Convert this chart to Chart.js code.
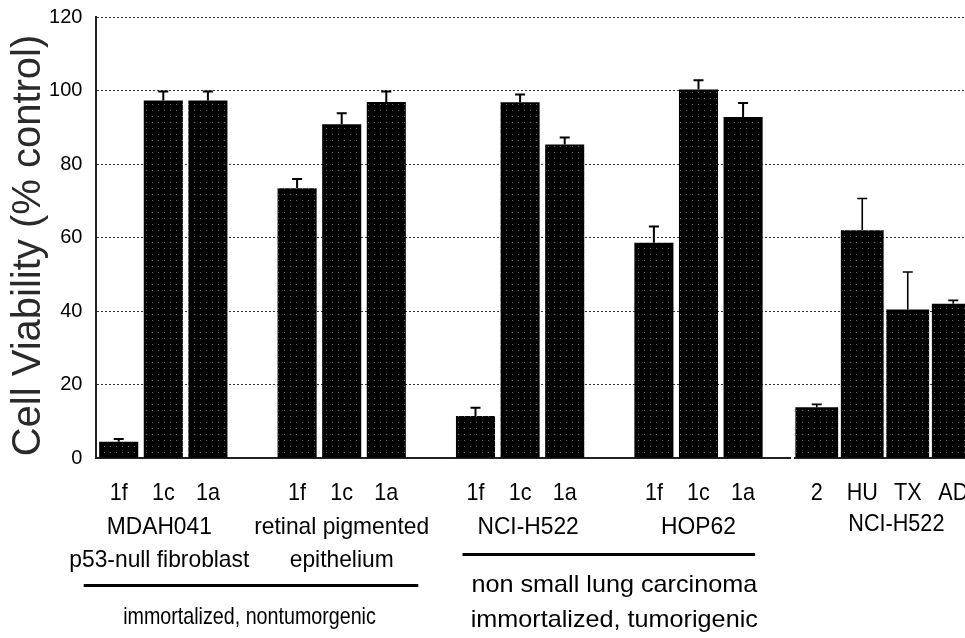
<!DOCTYPE html>
<html><head><meta charset="utf-8">
<script src="https://cdn.jsdelivr.net/npm/chart.js@4.4.1/dist/chart.umd.min.js"></script>
<style>
html,body{margin:0;padding:0;background:#fff;overflow:hidden;width:965px;height:638px;}
#left{position:absolute;left:0;top:0;width:791px;height:638px;overflow:hidden;}
#right{position:absolute;left:794px;top:0;width:171px;height:638px;overflow:hidden;}
canvas{display:block;}
</style></head><body>
<div id="left"><canvas id="c1" width="810" height="638"></canvas></div>
<div id="right"><canvas id="c2" width="182" height="638"></canvas></div>
<script>
// ---- data ----
const leftCategories = ['1f','1c','1a','', '1f','1c','1a','', '1f','1c','1a','', '1f','1c','1a',''];
const leftValues = [4.4, 97.3, 97.3, null, 73.4, 90.8, 96.9, null, 11.4, 96.8, 85.3, null, 58.6, 100.3, 92.8, null];
const leftErrors = [0.8, 2.4, 2.4, null, 2.5, 3.0, 2.8, null, 2.3, 2.1, 1.9, null, 4.4, 2.5, 3.8, null];
const cellLineNames = [['MDAH041','p53-null fibroblast'], ['retinal pigmented','epithelium'], ['NCI-H522'], ['HOP62']];
const classNames = [['immortalized, nontumorgenic'], ['non small lung carcinoma','immortalized, tumorigenic']];
const rightCategories = ['2','HU','TX','AD'];
const rightValues = [13.8, 62.0, 40.4, 42.0];
const rightErrors = [0.8, 8.6, 10.2, 0.9];
const rightLineName = 'NCI-H522';
const yTicks = {min: 0, max: 120, step: 20};
const yTitle = 'Cell Viability (% control)';

// ---- styles ----
const SANS = "'Liberation Sans',Arial,sans-serif";
const pc = document.createElement('canvas'); pc.width = 6; pc.height = 6;
const pctx = pc.getContext('2d');
pctx.fillStyle = '#000'; pctx.fillRect(0,0,6,6);
pctx.fillStyle = '#6a6a6a'; pctx.fillRect(2,2,1,1);
const barPattern = pctx.createPattern(pc, 'repeat');

function condText(ctx, t, x, y, size, sx) {
  ctx.save();
  ctx.font = size + "px " + SANS;
  ctx.textAlign = 'center'; ctx.textBaseline = 'middle';
  ctx.translate(x, y); ctx.scale(sx, 1);
  ctx.fillText(t, 0, 0);
  ctx.restore();
}

const errorBars = {
  id: 'errorBars',
  afterDatasetsDraw(chart, args, opts) {
    const ctx = chart.ctx, ys = chart.scales.y;
    const meta = chart.getDatasetMeta(0);
    const errs = opts.errors;
    ctx.save();
    ctx.strokeStyle = '#000'; ctx.lineWidth = opts.lw || 2;
    meta.data.forEach((el, i) => {
      const v = chart.data.datasets[0].data[i];
      if (v == null || errs[i] == null) return;
      const yTop = ys.getPixelForValue(v + errs[i]);
      ctx.beginPath();
      ctx.moveTo(el.x, el.y); ctx.lineTo(el.x, yTop);
      ctx.moveTo(el.x - 5, yTop); ctx.lineTo(el.x + 5, yTop);
      ctx.stroke();
    });
    ctx.restore();
  }
};

const catLabels = {
  id: 'catLabels',
  afterDraw(chart) {
    const ctx = chart.ctx, xs = chart.scales.x;
    ctx.save(); ctx.fillStyle = '#000';
    chart.data.labels.forEach((t, i) => { if (t) condText(ctx, t, xs.getPixelForValue(i), 493, 24, 0.9); });
    ctx.restore();
  }
};

const leftLabels = {
  id: 'leftLabels',
  afterDraw(chart) {
    const ctx = chart.ctx, xs = chart.scales.x, ys = chart.scales.y;
    const px = i => xs.getPixelForValue(i);
    ctx.save();
    ctx.fillStyle = '#000';
    const groupStarts = [0, 4, 8, 12];
    const lineY = [527, 560];
    cellLineNames.forEach((lines, g) => {
      const cx = (px(groupStarts[g]) + px(groupStarts[g] + 2)) / 2 + (g === 2 ? 8 : 0) + (g === 0 ? -4 : 0);
      lines.forEach((t, k) => condText(ctx, t, cx, lineY[k], 24, 0.95));
    });
    let x0 = px(0) - 35, x1 = px(6) + 32;
    ctx.fillRect(x0, 584, x1 - x0, 3);
    condText(ctx, classNames[0][0], (px(0) + px(6)) / 2 - 3, 617, 24, 0.82);
    x0 = px(8) - 13; x1 = px(14) + 12;
    ctx.fillRect(x0, 553, x1 - x0, 3);
    const cr = (px(8) + px(14)) / 2 + 5;
    condText(ctx, classNames[1][0], cr, 585, 24, 1.05);
    condText(ctx, classNames[1][1], cr, 620, 24, 1.05);
    // y title
    ctx.save();
    ctx.fillStyle = '#2a2a2a';
    ctx.font = "40px " + SANS;
    ctx.textAlign = 'center'; ctx.textBaseline = 'middle';
    ctx.translate(29, (ys.top + ys.bottom) / 2 + 8);
    ctx.rotate(-Math.PI / 2);
    ctx.fillText(yTitle, 0, 0);
    ctx.restore();
    ctx.restore();
  }
};

const rightLabels = {
  id: 'rightLabels',
  afterDraw(chart) {
    const ctx = chart.ctx, xs = chart.scales.x;
    ctx.save(); ctx.fillStyle = '#000';
    condText(ctx, rightLineName, xs.getPixelForValue(1.75), 524, 24, 0.9);
    ctx.restore();
  }
};

function baseOptions(isLeft, errors) {
  return {
    responsive: false, animation: false,
    layout: {padding: {top: 17, bottom: 0, left: 0, right: 0}},
    plugins: {legend: {display: false}, tooltip: {enabled: false}, errorBars: {errors: errors, lw: isLeft ? 2 : 1.6}},
    scales: {
      x: {
        grid: {display: false},
        border: {display: true, color: '#222', width: 2, dash: [2, 2]},
        ticks: {display: false},
        afterFit: a => { a.height = 180; a.paddingLeft = 0; a.paddingRight = 0; }
      },
      y: {
        min: yTicks.min, max: yTicks.max,
        grid: {color: '#333', lineWidth: 1, drawTicks: false},
        border: {display: isLeft, color: '#222', width: 2, dash: [2, 2]},
        ticks: isLeft ? {stepSize: yTicks.step, color: '#000', font: {family: SANS, size: 20}, padding: 14} : {stepSize: yTicks.step, display: false},
        afterFit: a => { a.width = isLeft ? 96.4 : 0; a.paddingTop = 0; a.paddingBottom = 0; }
      }
    }
  };
}

new Chart(document.getElementById('c1'), {
  type: 'bar',
  data: {labels: leftCategories, datasets: [{data: leftValues, backgroundColor: barPattern, borderWidth: 0, barPercentage: 0.876, categoryPercentage: 1}]},
  options: baseOptions(true, leftErrors),
  plugins: [errorBars, catLabels, leftLabels]
});

new Chart(document.getElementById('c2'), {
  type: 'bar',
  data: {labels: rightCategories, datasets: [{data: rightValues, backgroundColor: barPattern, borderWidth: 0, barPercentage: 0.94, categoryPercentage: 1}]},
  options: baseOptions(false, rightErrors),
  plugins: [errorBars, catLabels, rightLabels]
});
</script>
</body></html>
